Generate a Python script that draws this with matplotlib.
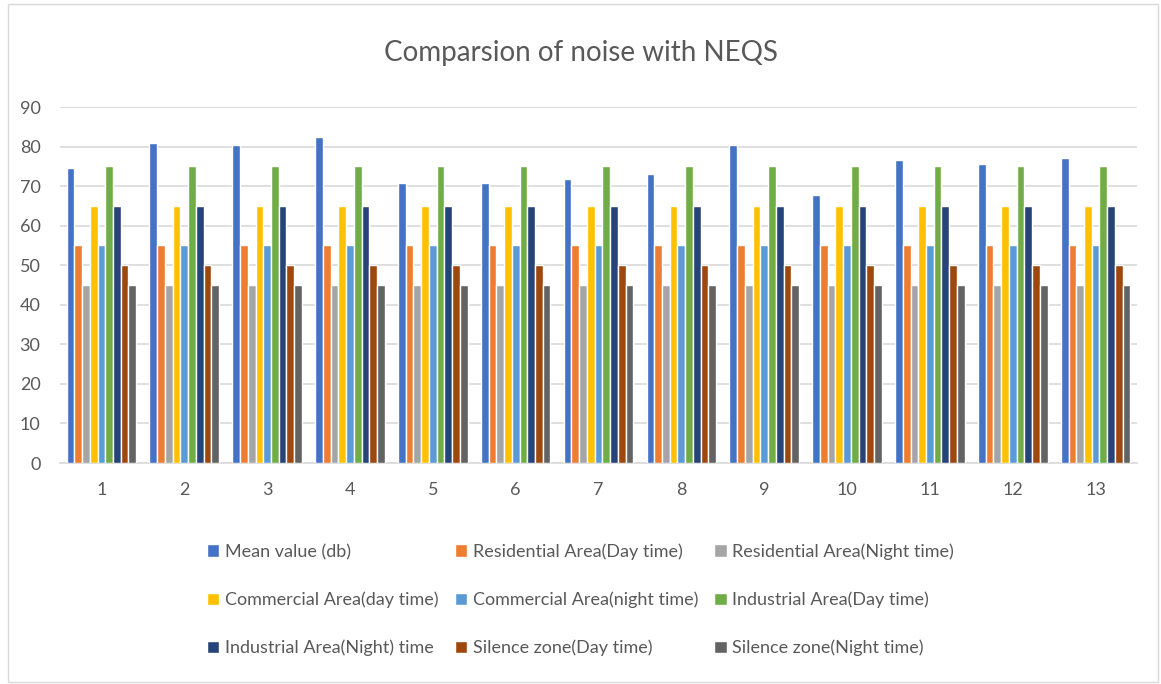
import matplotlib
matplotlib.use("Agg")
import matplotlib.pyplot as plt
import numpy as np
from matplotlib.patches import Rectangle

plt.rcParams['font.family'] = ['Lato', 'DejaVu Sans']

sites = ['1', '2', '3', '4', '5', '6', '7', '8', '9', '10', '11', '12', '13']
mean_value = [74.6, 80.9, 80.4, 82.3, 70.7, 70.7, 71.7, 73.1, 80.4, 67.8, 76.5, 75.5, 77.0]
res_day = [55] * 13
res_night = [45] * 13
com_day = [65] * 13
com_night = [55] * 13
ind_day = [75] * 13
ind_night = [65] * 13
sil_day = [50] * 13
sil_night = [45] * 13

series = [mean_value, res_day, res_night, com_day, com_night, ind_day, ind_night, sil_day, sil_night]
labels = ['Mean value (db)', 'Residential Area(Day time)', 'Residential Area(Night time)',
          'Commercial Area(day time)', 'Commercial Area(night time)', 'Industrial Area(Day time)',
          'Industrial Area(Night) time', 'Silence zone(Day time)', 'Silence zone(Night time)']
colors = ['#4472C4', '#ED7D31', '#A5A5A5', '#FFC000', '#5B9BD5', '#70AD47', '#264478', '#9E480E', '#636363']

fig = plt.figure(figsize=(11.61, 6.84), dpi=100)
ax = fig.add_axes([60 / 1161, 1 - 463 / 684, (1137 - 60) / 1161, (463 - 107) / 684])

x = np.arange(len(sites))
n = len(series)
group_w = 0.84
bw = group_w / n
handles = []
for i, (vals, lab, c) in enumerate(zip(series, labels, colors)):
    offs = -group_w / 2 + bw * (i + 0.5)
    b = ax.bar(x + offs, vals, width=bw, color=c, edgecolor='white', linewidth=1.0, label=lab, zorder=3)
    handles.append(b)

ax.set_xlim(-0.5, len(sites) - 0.5)
ax.set_ylim(0, 90)
ax.set_yticks(np.arange(0, 91, 10))
ax.set_xticks(x)
ax.set_xticklabels(sites)
ax.grid(axis='y', color='#D9D9D9', linewidth=1.2, zorder=0)
ax.set_axisbelow(True)
for s in ['top', 'right', 'left']:
    ax.spines[s].set_visible(False)
ax.spines['bottom'].set_color('#D9D9D9')
ax.spines['bottom'].set_linewidth(1.2)
ax.tick_params(axis='both', length=0, labelsize=13, colors='#595959')
ax.tick_params(axis='x', pad=14)
ax.tick_params(axis='y', pad=14)

fig.text(0.5, 1 - 53 / 684, 'Comparsion of noise with NEQS', ha='center', va='center',
         fontsize=20, color='#595959')

order = [0, 3, 6, 1, 4, 7, 2, 5, 8]
leg = fig.legend([handles[i] for i in order], [labels[i] for i in order], ncol=3,
                 loc='center', bbox_to_anchor=(0.5, 1 - 600 / 684), frameon=False,
                 fontsize=13, handlelength=0.7, handleheight=0.7, handletextpad=0.3,
                 columnspacing=0.9, labelspacing=1.75)
for t in leg.get_texts():
    t.set_color('#595959')

fig.patches.append(Rectangle((8 / 1161, 2 / 684), 1150 / 1161, 678 / 684, transform=fig.transFigure,
                             fill=False, edgecolor='#D9D9D9', linewidth=1))

fig.savefig('out.png', dpi=100, facecolor='white')
